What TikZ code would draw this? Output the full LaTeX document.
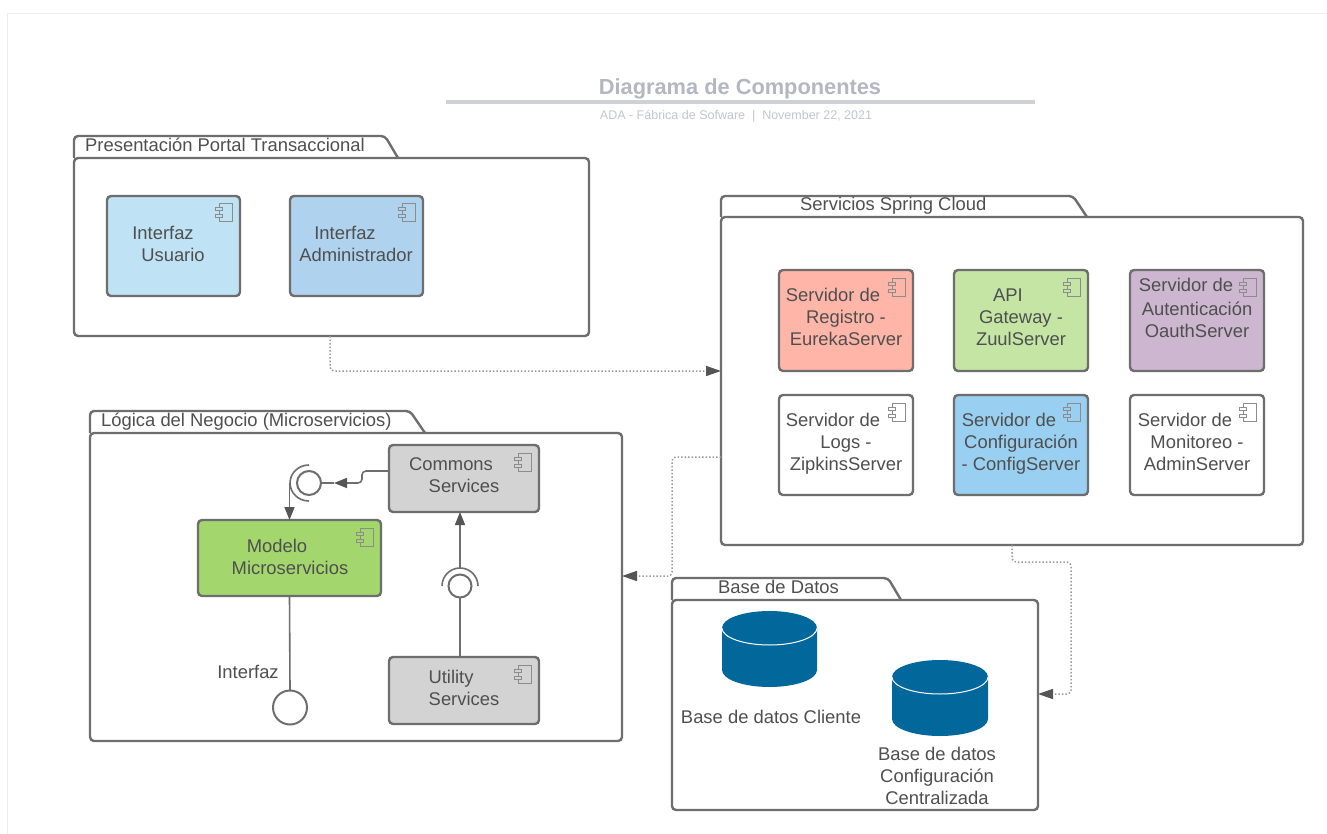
\documentclass[tikz,border=0pt]{standalone}
\usepackage{fontspec}
\setmainfont{Liberation Sans}
\usetikzlibrary{arrows.meta,calc}
\definecolor{edgec}{HTML}{6E6E6E}
\definecolor{txtc}{HTML}{4F4F4F}
\definecolor{iconc}{HTML}{8C8C8C}
\definecolor{dotc}{HTML}{9A9A9A}
\definecolor{tipc}{HTML}{555555}
\definecolor{dbc}{HTML}{02689B}
\definecolor{titlec}{HTML}{B4B7C2}
\definecolor{subc}{HTML}{C4C6CC}
\definecolor{rulec}{HTML}{D0D1D6}
\definecolor{framec}{HTML}{EBEBEB}
\definecolor{cUsr}{HTML}{BFE2F5}
\definecolor{cAdm}{HTML}{AFD3EE}
\definecolor{cReg}{HTML}{FFB5A8}
\definecolor{cApi}{HTML}{C5E5A5}
\definecolor{cAut}{HTML}{CDB6D0}
\definecolor{cCfg}{HTML}{99CFF0}
\definecolor{cGry}{HTML}{D3D3D3}
\definecolor{cMod}{HTML}{A3D76E}
\newcommand{\pad}[1]{\hspace*{#1pt}\mbox{}}
\tikzset{
  boxshape/.style={draw=edgec,line width=2.4pt,rounded corners=4pt,outer sep=0pt,inner sep=0pt},
  pkgbody/.style={boxshape,fill=white},
  tabline/.style={draw=edgec,line width=2.4pt,rounded corners=4pt,fill=white},
  txt/.style={text=txtc,align=center,inner sep=0pt,font=\fontsize{18.4}{22}\selectfont},
  iconline/.style={draw=iconc,line width=1pt},
  link/.style={draw=edgec,line width=1.6pt},
  linkarrow/.style={link,-{Triangle[length=13pt,width=10pt,fill=tipc,color=tipc]}},
  dotlink/.style={draw=dotc,line width=1.5pt,dotted,rounded corners=4pt,-{Triangle[length=15pt,width=10pt,fill=tipc,color=tipc]}},
  iface/.style={circle,draw=edgec,line width=2pt,fill=white,inner sep=0pt,outer sep=0pt},
}
% name x1 y1 x2 y2 style
\newcommand{\rbox}[6]{%
  \node[#6,minimum width={(#4-#2)*1pt},minimum height={(#5-#3)*1pt}] (#1) at ({(#2+#4)/2},{(#3+#5)/2}) {};}
% component: name x1 y1 x2 y2 fill
\newcommand{\comp}[6]{%
  \rbox{#1}{#2}{#3}{#4}{#5}{boxshape,fill=#6}
  \draw[iconline] (#4-21,#3+8) rectangle (#4-8,#3+26);
  \draw[iconline,fill=#6] (#4-25,#3+12) rectangle (#4-18,#3+15);
  \draw[iconline,fill=#6] (#4-25,#3+19) rectangle (#4-18,#3+22);
}
% package: name x1 y1 x2 y2 tabtop slantstart slantend
\newcommand{\pkg}[8]{%
  \draw[tabline] (#2,#3) -- (#2,#6) -- (#7,#6) -- (#8,#3);
  \rbox{#1}{#2}{#3}{#4}{#5}{pkgbody}
}
% cylinder: x1 x2 top-centre-y bottom-centre-y ry
\newcommand{\dbcyl}[5]{%
  \fill[dbc] (#1,#3) arc[start angle=180,end angle=360,x radius={(#2-#1)/2},y radius=#5]
     -- (#2,#4) arc[start angle=0,end angle=180,x radius={(#2-#1)/2},y radius=#5] -- cycle;
  \draw[white,line width=1pt] (#1,#3) arc[start angle=180,end angle=0,x radius={(#2-#1)/2},y radius=#5];
}
\begin{document}
\begin{tikzpicture}[x=1pt,y=-1pt]
\useasboundingbox (0,0) rectangle (1327,834);
\fill[white] (0,0) rectangle (1327,834);
% page frame
\draw[framec,line width=1pt] (7.5,834) -- (7.5,14) -- (1327,14);
% heading
\node[inner sep=0pt,text=titlec,font=\fontsize{21.8}{24}\selectfont\bfseries] (title) at (740,89) {Diagrama de Componentes};
\coordinate (ruleL) at (446,102);
\coordinate (ruleR) at (1035,102);
\draw[rulec,line width=3.5pt] (ruleL) -- (ruleR);
\node[inner sep=0pt,text=subc,font=\fontsize{12.5}{14}\selectfont] (subtitle) at (736,116) {ADA - Fábrica de Sofware\ \ |\ \ November 22, 2021};

% packages
\pkg{pkA}{74}{158}{589}{336}{136}{385}{398}
\pkg{pkB}{721}{217}{1303}{545}{196}{1073}{1087}
\pkg{pkC}{90}{433}{622}{741}{411}{410}{425}
\pkg{pkD}{672}{600}{1038}{810}{578}{888}{901}
\node[txt,anchor=base west] (pkAt) at (85,152) {Presentación Portal Transaccional};
\node[txt,anchor=base west] (pkBt) at (800,211) {Servicios Spring Cloud};
\node[txt,anchor=base west] (pkCt) at (101,426) {Lógica del Negocio (Microservicios)};
\node[txt,anchor=base west] (pkDt) at (718,593) {Base de Datos};

% presentation components
\comp{usr}{107}{196}{240}{296}{cUsr}
\comp{adm}{290}{196}{423}{296}{cAdm}
\node[txt] (usrt) at (173,244) {Interfaz\pad{20}\\Usuario};
\node[txt] (admt) at (356,244) {Interfaz\pad{22}\\Administrador};

% spring cloud components
\comp{reg}{779}{270}{913}{371}{cReg}
\comp{api}{954}{270}{1088}{371}{cApi}
\comp{aut}{1130}{270}{1264}{371}{cAut}
\comp{lgs}{779}{395}{913}{495}{white}
\comp{cfg}{954}{395}{1088}{495}{cCfg}
\comp{mon}{1130}{395}{1264}{495}{white}
\node[txt] (regt) at (846,317) {Servidor de\pad{26}\\Registro -\\EurekaServer};
\node[txt] (apit) at (1021,317) {API\pad{26}\\Gateway -\\ZuulServer};
\node[txt] (autt) at (1197,308) {Servidor de\pad{22}\\[2pt]Autenticación\\OauthServer};
\node[txt] (lgst) at (846,444) {Servidor de\pad{26}\\Logs -\\ZipkinsServer};
\node[txt] (cfgt) at (1021,444) {Servidor de\pad{24}\\Configuración\\- ConfigServer};
\node[txt] (mont) at (1197,442) {Servidor de\pad{24}\\Monitoreo -\\AdminServer};

% business logic components
\comp{cmn}{389}{445}{539}{512}{cGry}
\comp{utl}{389}{657}{539}{724}{cGry}
\comp{mdl}{198}{520}{381}{596}{cMod}
\node[txt] (cmnt) at (464,475) {Commons\pad{26}\\Services};
\node[txt] (utlt) at (464,688) {Utility\pad{26}\\Services};
\node[txt] (mdlt) at (290,557) {Modelo\pad{26}\\Microservicios};

% interfaces
\node[iface,minimum size=24pt] (ifA) at (309,483) {};
\node[iface,minimum size=23pt] (ifB) at (460,586) {};
\node[iface,minimum size=34pt] (ifC) at (290,707.5) {};
\coordinate (arcAtop) at (309,465);
\coordinate (arcAleft) at (290,483);
\coordinate (arcBleft) at (442,586);
\coordinate (arcBtop) at (460,568);
\draw[link] (arcAtop) arc[start angle=270,end angle=90,x radius=19,y radius=18];
\draw[link] (arcBleft) arc[start angle=180,end angle=360,radius=18];
\node[txt] (ifCt) at (248,672) {Interfaz};

% solid connectors
\coordinate (j1) at (362,471);
\coordinate (j2) at (362,483);
\coordinate (t1) at (334,483);
\draw[linkarrow,rounded corners=4pt] (cmn.west |- j1) -- (j1) -- (j2) -- (t1);
\draw[link] (t1) -- (ifA.east);
\draw[linkarrow] (arcAleft -| mdl.north) -- (mdl.north);
\draw[link] (utl.north -| ifB.south) -- (ifB.south);
\draw[linkarrow] (arcBtop) -- (cmn.south -| arcBtop);
\draw[link] (mdl.south) -- (ifC.north);

% dotted connectors
\coordinate (r1) at (330,371);
\coordinate (r2) at (672,457);
\coordinate (r3) at (672,576);
\coordinate (r4) at (1012,562);
\coordinate (r5) at (1071,562);
\coordinate (r6) at (1071,694);
\draw[dotlink] (pkA.south -| r1) -- (r1) -- (pkB.west |- r1);
\draw[dotlink] (pkB.west |- r2) -- (r2) -- (r3) -- (pkC.east |- r3);
\draw[dotlink] (pkB.south -| r4) -- (r4) -- (r5) -- (r6) -- (pkD.east |- r6);

% databases
\dbcyl{722}{817}{628}{670}{17}
\dbcyl{892}{988}{677}{719}{17}
\node[txt] (dbAt) at (771,717) {Base de datos Cliente};
\node[txt] (dbBt) at (937,776) {Base de datos\\Configuración\\Centralizada};
\end{tikzpicture}
\end{document}
